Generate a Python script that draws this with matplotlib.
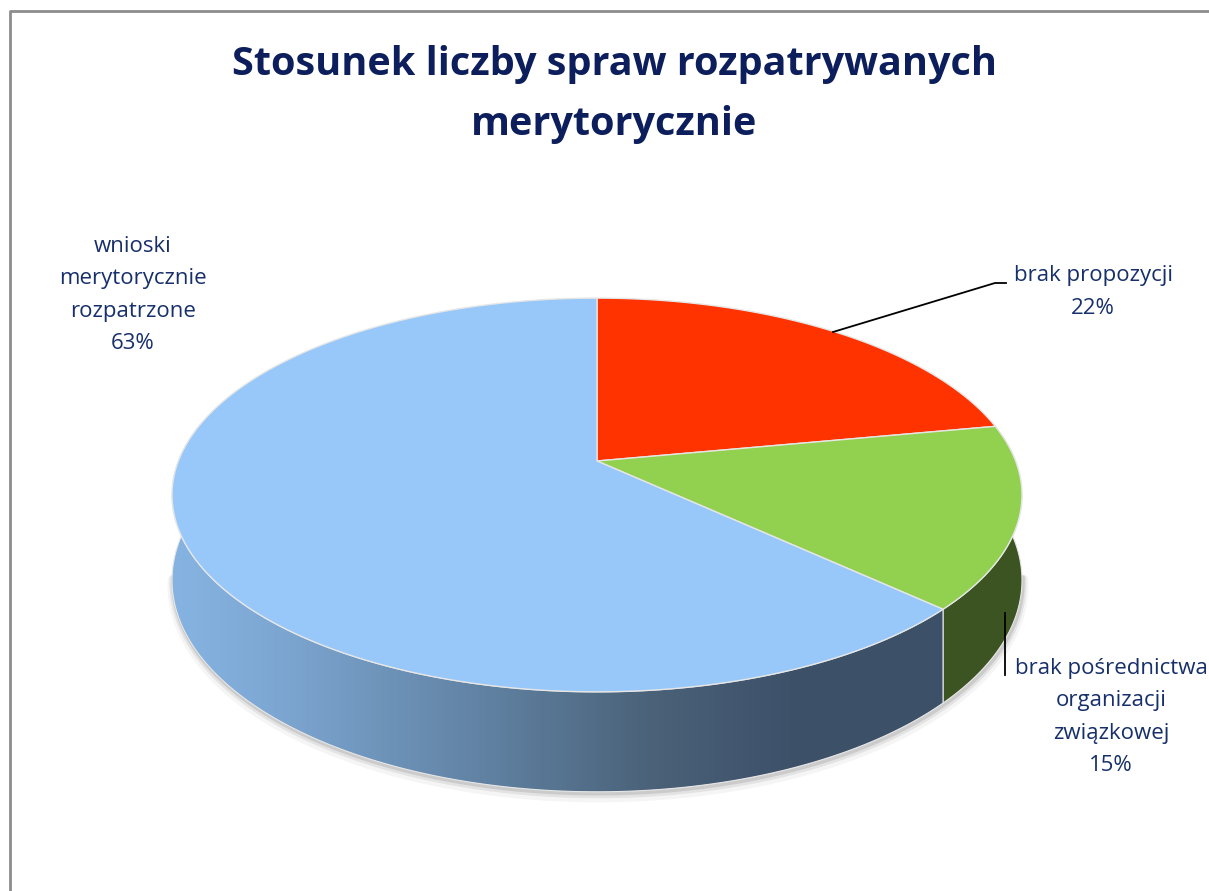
import numpy as np
import matplotlib
matplotlib.use("Agg")
import matplotlib.pyplot as plt
from matplotlib.patches import Polygon
from matplotlib.colors import LinearSegmentedColormap

plt.rcParams['font.family'] = ['Open Sans', 'DejaVu Sans']

# data (slices go clockwise from 12 o'clock, like Excel)
labels = ['brak propozycji', 'brak pośrednictwa\norganizacji\nzwiązkowej',
          'wnioski\nmerytorycznie\nrozpatrzone']
values = [22, 15, 63]
top_colors = ['#ff3300', '#92d050', '#97c8f9']
side_colors = ['#a82200', '#3c5422', None]  # None -> gradient
title = 'Stosunek liczby spraw rozpatrywanych\nmerytorycznie'

W, H = 1209, 891
fig = plt.figure(figsize=(W / 100, H / 100), dpi=100)
ax = fig.add_axes([0, 0, 1, 1])
ax.set_xlim(0, W)
ax.set_ylim(H, 0)
ax.axis('off')

# pie geometry in pixels (simple perspective)
cx, cy = 597, 461
A, B, k = 418.6, 191.0, 0.1726
depth = 82.7


def proj(t, z=0.0):
    X, Y = np.cos(t), np.sin(t)
    d = 1 + k * Y
    return cx + A * X / d, cy - B * Y / d + depth * z / d


def arc(t0, t1, z=0.0, n=200):
    t = np.linspace(t0, t1, n)
    x, y = proj(t, z)
    return np.column_stack([x, y])


total = sum(values)
fracs = np.array(values) / total
ends = np.cumsum(fracs)
starts = ends - fracs
# math angles (counter clockwise) of slice bounds
a_hi = np.pi / 2 - starts * 2 * np.pi
a_lo = np.pi / 2 - ends * 2 * np.pi

vis0, vis1 = np.pi - 0.2, 2 * np.pi + 0.2

# soft shadow along the bottom edge
shadow = arc(np.pi + 0.15, 2 * np.pi - 0.15, 1.0)
for off, al, lw in [(5, 0.04, 8), (3, 0.07, 5), (2, 0.10, 2.5)]:
    ax.plot(shadow[:, 0] + 1, shadow[:, 1] + off, color='black', alpha=al,
            lw=lw, solid_capstyle='round', zorder=1)

# side walls
grad_cmap = LinearSegmentedColormap.from_list(
    'side', [(0.0, '#86b4e2'), (0.12, '#7ea8d4'), (0.4, '#5f80a0'),
             (0.6, '#4a6178'), (0.78, '#3c5068'), (1.0, '#3c5068')])
for i in range(len(values)):
    lo, hi = a_lo[i], a_hi[i]
    # shift into visible window
    while hi < vis0:
        lo += 2 * np.pi
        hi += 2 * np.pi
    while lo > vis1:
        lo -= 2 * np.pi
        hi -= 2 * np.pi
    s0, s1 = max(lo, vis0), min(hi, vis1)
    if s1 - s0 < 0.02:
        continue
    pts = np.vstack([arc(s0, s1, 0.0), arc(s1, s0, 1.0)])
    if side_colors[i] is None:
        poly = Polygon(pts, closed=True, fc='none', ec='none', zorder=2)
        ax.add_patch(poly)
        gx = np.linspace(0, 1, 256).reshape(1, -1)
        im = ax.imshow(gx, cmap=grad_cmap, aspect='auto',
                       extent=[170, 980, pts[:, 1].max() + 2, pts[:, 1].min() - 2],
                       zorder=2)
        im.set_clip_path(poly)
        ax.add_patch(Polygon(pts, closed=True, fc='none', ec='#e6e6e6', lw=0.8, zorder=2.1))
    else:
        ax.add_patch(Polygon(pts, closed=True, fc=side_colors[i], ec='#e6e6e6',
                             lw=0.8, zorder=2))

# top faces
for i in range(len(values)):
    pts = np.vstack([[cx, cy], arc(a_hi[i], a_lo[i], 0.0)])
    ax.add_patch(Polygon(pts, closed=True, fc=top_colors[i], ec='#e6e6e6',
                         lw=1.0, zorder=3))

# title
ax.text(614, 94, title, ha='center', va='center', fontsize=28.5, fontweight='bold',
        color='#0c1e5b', linespacing=1.7, zorder=5)

# data labels
lab_color = '#17306b'
pct = [f'{v / total * 100:.0f}%' for v in values]
label_pos = [(1093, 292), (1111, 717), (133, 295)]
for i in range(len(values)):
    ax.text(label_pos[i][0], label_pos[i][1], labels[i] + '\n' + pct[i],
            ha='center', va='center', fontsize=16, color=lab_color,
            linespacing=1.7, zorder=5)

# leader lines
ax.plot([833, 995, 1006], [332, 283, 283], color='black', lw=1.3, zorder=4)
ax.plot([1005, 1005], [613, 675], color='black', lw=1.3, zorder=4)

# chart area border
ax.plot([10, 10, W], [H, 11, 11], color='#8c8c8c', lw=2, zorder=6)

fig.savefig('out.png', dpi=100)
